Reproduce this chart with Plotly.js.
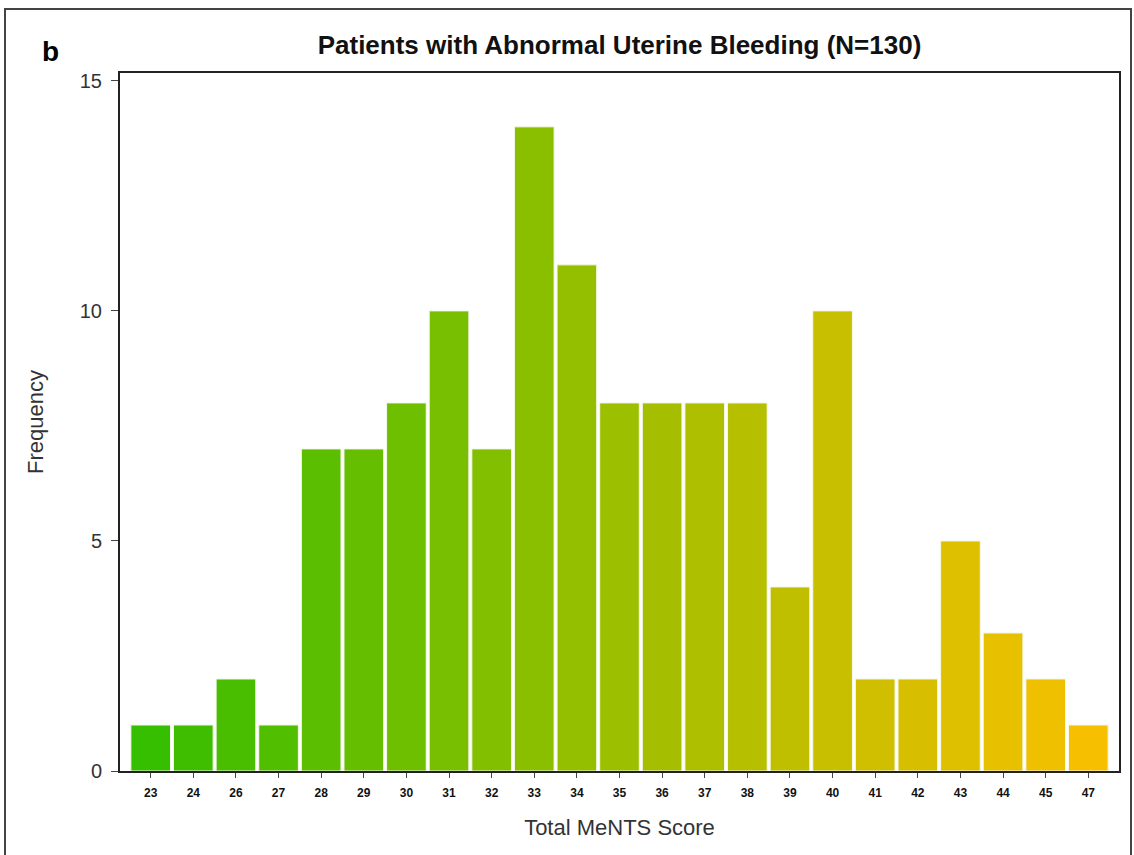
<!DOCTYPE html>
<html>
<head>
<meta charset="utf-8">
<script src="https://cdn.plot.ly/plotly-3.0.1.min.js"></script>
<style>
  html, body { margin: 0; padding: 0; background: #fff; overflow: hidden; }
  #chart { width: 1134px; height: 855px; position: relative; }
  #frame { position: absolute; left: 4px; top: 8px; width: 1124px; height: 900px;
           border: 2px solid #444; pointer-events: none; }
</style>
</head>
<body>
<div id="chart"></div>
<div id="frame"></div>
<script>
// Data
const scores = ['23','24','26','27','28','29','30','31','32','33','34','35','36','37','38','39','40','41','42','43','44','45','47'];
const frequency = [1,1,2,1,7,7,8,10,7,14,11,8,8,8,8,4,10,2,2,5,3,2,1];
const yTicks = [0,5,10,15];

const colorIndex = scores.map((s, i) => i);

const trace = {
  type: 'bar',
  x: scores,
  y: frequency,
  marker: {
    color: colorIndex,
    colorscale: [[0, '#36BE00'], [0.4, '#88BF00'], [0.7, '#C3BF00'], [1, '#F6C000']],
    cmin: 0,
    cmax: scores.length - 1,
    showscale: false,
    line: { color: '#f4f8e8', width: 1 }
  },
  hoverinfo: 'x+y'
};

const layout = {
  width: 1134,
  height: 855,
  margin: { l: 120, r: 15, t: 73, b: 84 },
  paper_bgcolor: '#ffffff',
  plot_bgcolor: '#ffffff',
  bargap: 0.07,
  showlegend: false,
  font: { family: 'Arial, Liberation Sans, sans-serif', color: '#333' },
  title: {
    text: '<b>Patients with Abnormal Uterine Bleeding (N=130)</b>',
    font: { size: 26, color: '#111', family: 'Arial, Liberation Sans, sans-serif' },
    x: 0.5, xref: 'paper', xanchor: 'center',
    y: 1 - 45 / 855, yref: 'container', yanchor: 'middle'
  },
  xaxis: {
    type: 'category',
    range: [-0.72, 22.72],
    showline: true, linecolor: '#222', linewidth: 2, mirror: true,
    ticks: 'outside', ticklen: 5, tickwidth: 1, tickcolor: '#444',
    ticklabelstandoff: 5,
    tickfont: { size: 12, color: '#111', family: 'Liberation Sans Narrow, Arial Narrow, Arial, sans-serif', weight: 'bold' },
    showgrid: false, zeroline: false,
    title: { text: 'Total MeNTS Score', font: { size: 22, color: '#333' }, standoff: 20 }
  },
  yaxis: {
    range: [0, 15.17],
    tickvals: yTicks,
    ticktext: yTicks.map(String),
    showline: true, linecolor: '#222', linewidth: 2, mirror: true,
    ticks: 'outside', ticklen: 7, tickwidth: 1, tickcolor: '#444',
    ticklabelstandoff: 5,
    tickfont: { size: 20, color: '#333' },
    showgrid: false, zeroline: false,
    title: { text: 'Frequency', font: { size: 22, color: '#333' }, standoff: 30 }
  },
  annotations: [{
    text: '<b>b</b>',
    xref: 'paper', yref: 'paper',
    x: (40 - 120) / 999, xanchor: 'left',
    y: (771 - 52) / 698, yanchor: 'middle',
    showarrow: false,
    font: { size: 28, color: '#000', family: 'Arial, Liberation Sans, sans-serif' }
  }]
};

Plotly.newPlot('chart', [trace], layout, { displayModeBar: false, staticPlot: true });
</script>
</body>
</html>
